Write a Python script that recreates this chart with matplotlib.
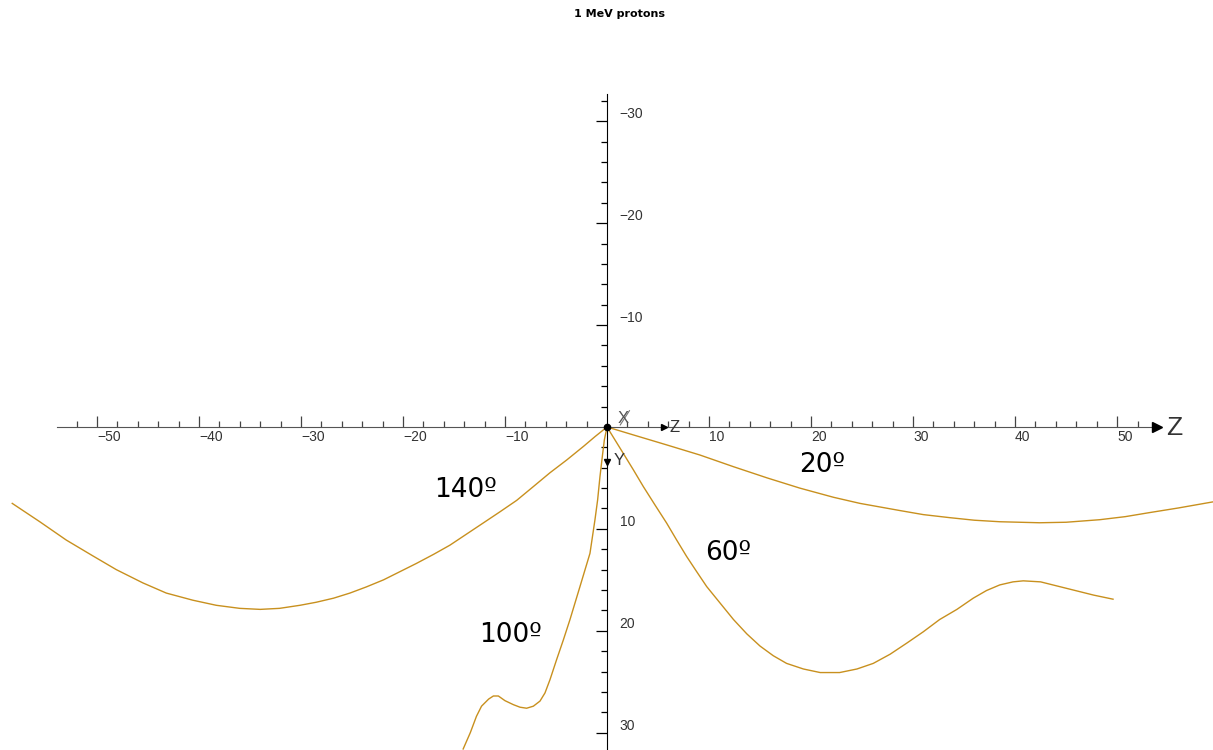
import numpy as np
import matplotlib.pyplot as plt

# === data (Z horizontal, Y pointing down) ===
z_20 = [0, 2.58, 5.85, 9.1, 12.4, 15.7, 18.9, 22.2, 24.8, 28.7, 31.0, 33.6, 36.0, 38.5,
        42.4, 45.0, 48.3, 50.8, 53.2, 56.0, 59.4]
y_20 = [0, 0.78, 1.76, 2.75, 3.9, 5.0, 6.0, 6.9, 7.5, 8.2, 8.6, 8.9, 9.15, 9.3,
        9.4, 9.35, 9.1, 8.8, 8.4, 7.95, 7.35]

z_60 = [0, 0.78, 1.6, 2.58, 3.56, 4.7, 5.85, 6.83, 7.8, 8.79, 9.77, 11.1, 12.4, 13.7, 15.0,
        16.3, 17.6, 19.25, 20.9, 22.8, 24.5, 26.1, 27.75, 29.4, 31.0, 32.6, 34.3, 35.9,
        37.2, 38.5, 39.8, 40.8, 42.5, 44.1, 45.7, 47.7, 49.6]
y_60 = [0, 1.27, 2.6, 4.2, 5.85, 7.65, 9.44, 11.1, 12.7, 14.2, 15.66, 17.3, 18.9, 20.3, 21.5,
        22.45, 23.2, 23.75, 24.1, 24.1, 23.75, 23.2, 22.3, 21.2, 20.1, 18.9, 17.9, 16.8,
        16.05, 15.5, 15.2, 15.1, 15.2, 15.6, 16.0, 16.5, 16.9]

z_100 = [0, -0.26, -0.46, -0.69, -0.92, -1.18, -1.67, -2.65, -3.63, -4.28, -4.93, -5.59,
         -6.08, -6.57, -7.22, -7.88, -8.53, -9.18, -10.0, -10.65, -11.14, -11.6, -12.3,
         -12.8, -13.4, -14.1]
y_100 = [0, 1.27, 2.9, 4.87, 7.16, 9.1, 12.4, 15.66, 18.9, 20.9, 22.8, 24.8,
         26.1, 26.9, 27.4, 27.6, 27.5, 27.25, 26.86, 26.4, 26.4, 26.7, 27.4,
         28.4, 30.0, 31.6]

z_140 = [0, -1.18, -2.3, -3.95, -5.6, -7.22, -8.85, -10.5, -12.1, -13.75, -15.4, -17.0,
         -18.7, -20.3, -21.9, -23.6, -25.2, -26.8, -28.5, -30.1, -32.1, -34.0, -36.0,
         -38.3, -40.6, -43.2, -45.5, -48.1, -50.4, -53.0, -55.6, -58.3]
y_140 = [0, 0.95, 1.9, 3.24, 4.5, 5.85, 7.2, 8.33, 9.4, 10.5, 11.6, 12.5,
         13.4, 14.2, 15.0, 15.7, 16.3, 16.8, 17.2, 17.5, 17.8, 17.9, 17.8,
         17.5, 17.0, 16.3, 15.3, 14.0, 12.65, 11.1, 9.3, 7.5]

etiquetas = ['20º', '60º', '140º', '100º']
pos_etiquetas = [(21.1, 3.7), (11.9, 12.4), (-13.9, 6.2), (-9.5, 20.4)]

ticks_z = [-50, -40, -30, -20, -10, 10, 20, 30, 40, 50]
ticks_y = [-30, -20, -10, 10, 20, 30]

color_curva = '#C8901E'

fig = plt.figure(figsize=(12.13, 7.5), dpi=100)
ax = fig.add_axes([0, 0, 1, 1])
ax.set_xlim(-59.5, 59.4)
ax.set_ylim(31.7, -41.9)

for zz, yy in [(z_20, y_20), (z_60, y_60), (z_100, y_100), (z_140, y_140)]:
    ax.plot(zz, yy, color=color_curva, lw=1.0, zorder=2, solid_joinstyle='round')

for txt, (zx, yx) in zip(etiquetas, pos_etiquetas):
    ax.text(zx, yx, txt, fontsize=19, family='DejaVu Sans', ha='center', va='center', color='black')

# === ejes cruzando en el origen ===
ax.spines['top'].set_visible(False)
ax.spines['left'].set_visible(False)
ax.spines['bottom'].set_position(('data', 0))
ax.spines['right'].set_position(('data', 0))
ax.spines['bottom'].set_bounds(-53.9, 54.0)
ax.spines['right'].set_bounds(-32.7, 31.7)
ax.spines['bottom'].set_color('#555555')
ax.spines['right'].set_color('black')

ax.xaxis.set_ticks_position('bottom')
ax.yaxis.set_ticks_position('right')
ax.set_xticks(ticks_z)
ax.set_xticklabels(['\u2212%d' % -t if t < 0 else str(t) for t in ticks_z])
ax.set_xticks([t for t in range(-52, 54, 2) if t % 10 != 0], minor=True)
ax.set_yticks(ticks_y)
ax.set_yticklabels(['\u2212%d' % -t if t < 0 else str(t) for t in ticks_y])
ax.set_yticks([t for t in range(-32, 32, 2) if t % 10 != 0], minor=True)

ax.tick_params(axis='x', which='major', direction='in', length=8, width=0.9, color='#444444',
               pad=2.5, labelsize=10, labelcolor='#333333')
ax.tick_params(axis='x', which='minor', direction='in', length=4, width=0.9, color='#444444')
ax.tick_params(axis='y', which='major', direction='in', length=7.8, width=0.9, color='black',
               pad=9, labelsize=10, labelcolor='#333333')
ax.tick_params(axis='y', which='minor', direction='in', length=4.2, width=0.9, color='black')
for lab in ax.get_xticklabels():
    lab.set_ha('left')
    lab.set_family('Liberation Sans')
for lab in ax.get_yticklabels():
    lab.set_va('bottom')
    lab.set_family('Liberation Sans')

# flechas y nombres de ejes
ax.plot([53.9], [0], marker='>', ms=7, color='black', zorder=4)
ax.text(54.8, 0.1, 'Z', fontsize=19, family='Liberation Sans', color='#333333',
        ha='left', va='center')
ax.plot([5.6], [0], marker='>', ms=5, color='black', zorder=4)
ax.text(6.1, 0.1, 'Z', fontsize=12, family='Liberation Sans', color='#333333',
        ha='left', va='center')
ax.plot([0], [3.4], marker='v', ms=5, color='black', zorder=4)
ax.text(0.7, 3.3, 'Y', fontsize=12, family='Liberation Sans', color='#333333',
        ha='left', va='center')
ax.text(1.0, -0.1, 'X', fontsize=12, family='Liberation Sans', color='#555555',
        ha='left', va='bottom')
ax.plot([1.3, 2.2], [-0.2, -1.6], color='#777777', lw=0.8)
ax.plot([0], [0], marker='o', ms=4.5, color='black', zorder=5)

fig.text(619 / 1213, 1 - 14 / 750, '1 MeV protons', ha='center', va='center',
         fontsize=8, fontweight='bold', color='black')

fig.savefig('out.png', dpi=100)
